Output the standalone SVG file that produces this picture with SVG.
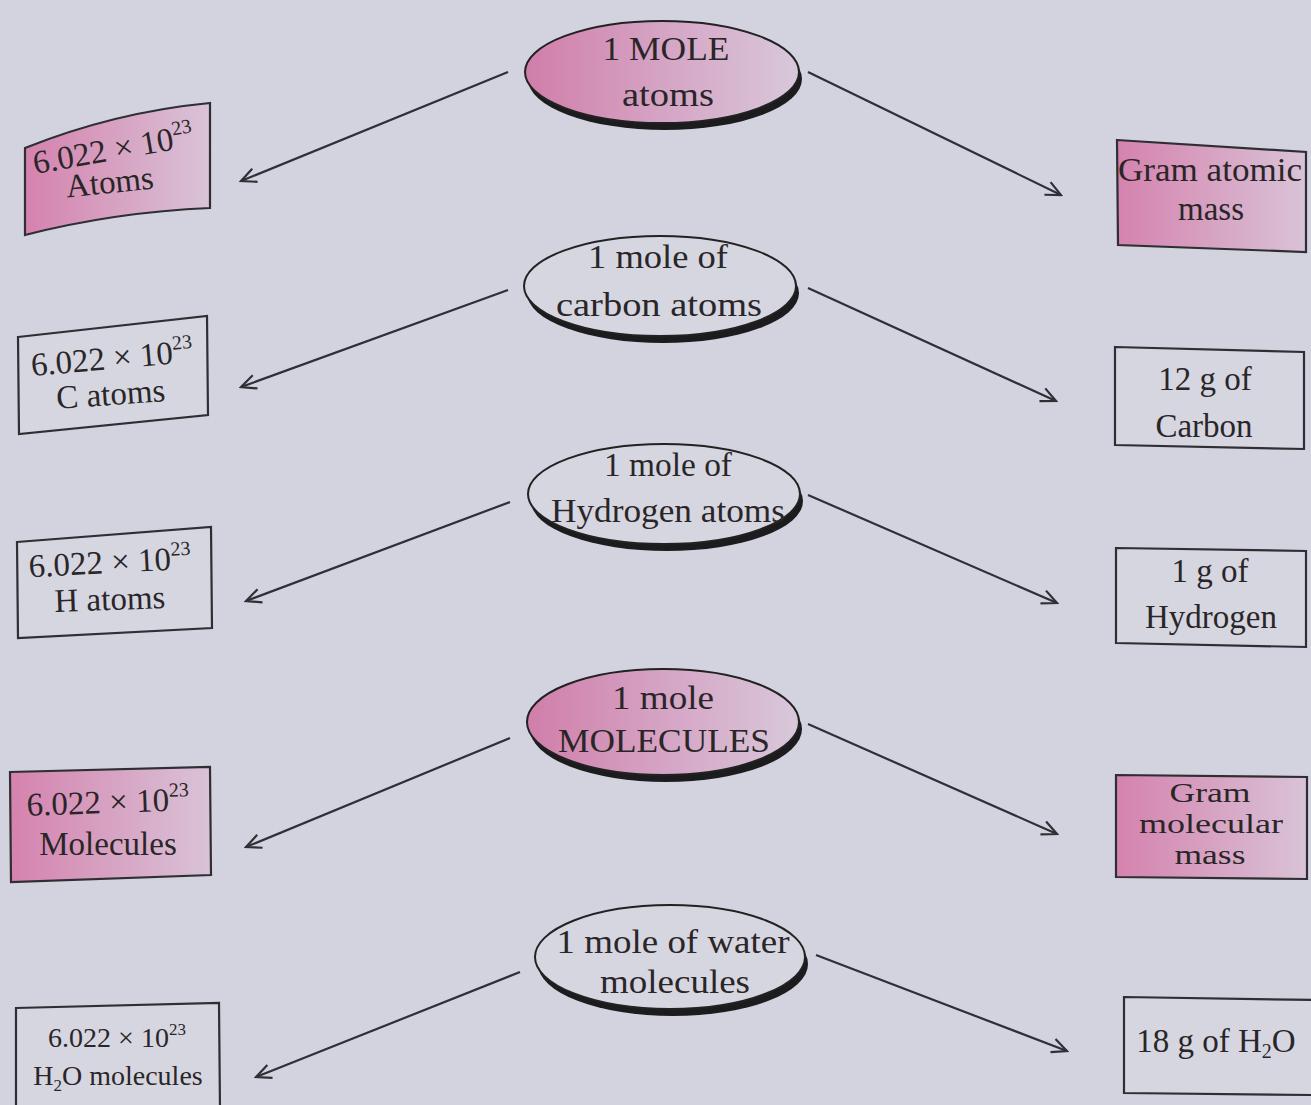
<svg xmlns="http://www.w3.org/2000/svg" width="1311" height="1105" viewBox="0 0 1311 1105">
<defs>
<style>
.t{font-family:"Liberation Serif","Times New Roman",serif;fill:#2a2628;text-anchor:middle}
.e{font-size:34px}
.b{font-size:33px}
.s{font-size:28px}
.m{font-size:27px}
.box{stroke:#2e2e33;stroke-width:2.2;stroke-linejoin:miter}
.plain{fill:#d6d6e1}
.ring{stroke:#222;stroke-width:2}
.shadow{fill:#1c1c1f}
.conn{stroke:#2f2f35;stroke-width:2.2;fill:none;marker-end:url(#arr)}
</style>
<linearGradient id="pinkL" x1="0" y1="0" x2="1" y2="0">
<stop offset="0" stop-color="#d582ae"/>
<stop offset="1" stop-color="#d9c3d7"/>
</linearGradient>
<linearGradient id="pinkE" x1="0" y1="0" x2="1" y2="0">
<stop offset="0" stop-color="#d07ea9"/>
<stop offset="0.6" stop-color="#d6abc9"/>
<stop offset="1" stop-color="#d8c8da"/>
</linearGradient>
<marker id="arr" viewBox="0 0 18 18" refX="16" refY="9" markerWidth="18" markerHeight="18" markerUnits="userSpaceOnUse" orient="auto">
<path d="M1,2 L16,9 L1,16" fill="none" stroke="#2f2f35" stroke-width="2.2"/>
</marker>
</defs>
<rect width="1311" height="1105" fill="#d3d3df"/>

<g id="connectors">
<line class="conn" x1="508" y1="72" x2="241" y2="181"/>
<line class="conn" x1="808" y1="72" x2="1061" y2="195"/>
<line class="conn" x1="508" y1="290" x2="241" y2="387"/>
<line class="conn" x1="808" y1="288" x2="1056" y2="401"/>
<line class="conn" x1="510" y1="502" x2="246" y2="601"/>
<line class="conn" x1="808" y1="495" x2="1057" y2="603"/>
<line class="conn" x1="510" y1="738" x2="246" y2="847"/>
<line class="conn" x1="808" y1="724" x2="1057" y2="834"/>
<line class="conn" x1="520" y1="972" x2="256" y2="1077"/>
<line class="conn" x1="816" y1="955" x2="1067" y2="1051"/>
</g>

<g id="e1">
<ellipse class="shadow" cx="665" cy="79" rx="137" ry="51"/>
<ellipse class="ring" cx="662" cy="72" rx="137" ry="51" fill="url(#pinkE)"/>
<text class="t e" x="666" y="60" textLength="127" lengthAdjust="spacingAndGlyphs">1 MOLE</text>
<text class="t e" x="668" y="106" textLength="92" lengthAdjust="spacingAndGlyphs">atoms</text>
</g>
<g id="e2">
<ellipse class="shadow" cx="663" cy="293" rx="136" ry="50"/>
<ellipse class="ring plain" cx="660" cy="286" rx="136" ry="50"/>
<text class="t e" x="658" y="268" textLength="140" lengthAdjust="spacingAndGlyphs">1 mole of</text>
<text class="t e" x="659" y="316" textLength="206" lengthAdjust="spacingAndGlyphs">carbon atoms</text>
</g>
<g id="e3">
<ellipse class="shadow" cx="667" cy="501" rx="136" ry="50"/>
<ellipse class="ring plain" cx="664" cy="494" rx="136" ry="50"/>
<text class="t e" x="668" y="476" textLength="128" lengthAdjust="spacingAndGlyphs">1 mole of</text>
<text class="t e" x="668" y="522" textLength="234" lengthAdjust="spacingAndGlyphs">Hydrogen atoms</text>
</g>
<g id="e4">
<ellipse class="shadow" cx="666" cy="729" rx="136" ry="53"/>
<ellipse class="ring" cx="663" cy="722" rx="136" ry="53" fill="url(#pinkE)"/>
<text class="t e" x="663" y="709" textLength="102" lengthAdjust="spacingAndGlyphs">1 mole</text>
<text class="t e" x="664" y="752" textLength="212" lengthAdjust="spacingAndGlyphs">MOLECULES</text>
</g>
<g id="e5">
<ellipse class="shadow" cx="673" cy="964" rx="135" ry="52"/>
<ellipse class="ring plain" cx="670" cy="957" rx="135" ry="52"/>
<text class="t e" x="673" y="953" textLength="233" lengthAdjust="spacingAndGlyphs">1 mole of water</text>
<text class="t e" x="675" y="993" textLength="150" lengthAdjust="spacingAndGlyphs">molecules</text>
</g>

<g id="l1">
<path class="box" d="M25,148 Q115,112 210,103 L210,208 Q115,212 25,235 Z" fill="url(#pinkL)"/>
<text class="t b" transform="rotate(-10 114 155)" x="114" y="160">6.022 × 10<tspan font-size="20" dy="-14">23</tspan></text>
<text class="t b" transform="rotate(-6 110 185)" x="110" y="193">Atoms</text>
</g>
<g id="l2">
<path class="box plain" d="M18,337 L207,316 L208,415 L19,434 Z"/>
<text class="t b" transform="rotate(-5 112 360)" x="112" y="369">6.022 × 10<tspan font-size="20" dy="-14">23</tspan></text>
<text class="t b" transform="rotate(-4 111 398)" x="111" y="405">C atoms</text>
</g>
<g id="l3">
<path class="box plain" d="M17,542 L211,527 L212,628 L18,638 Z"/>
<text class="t b" transform="rotate(-3 110 566)" x="110" y="573">6.022 × 10<tspan font-size="20" dy="-14">23</tspan></text>
<text class="t b" transform="rotate(-2 110 604)" x="110" y="610">H atoms</text>
</g>
<g id="l4">
<path class="box" d="M10,772 L210,767 L211,875 L11,882 Z" fill="url(#pinkL)"/>
<text class="t b" transform="rotate(-2 108 806)" x="108" y="813">6.022 × 10<tspan font-size="20" dy="-14">23</tspan></text>
<text class="t b" x="108" y="855">Molecules</text>
</g>
<g id="l5">
<path class="box plain" d="M16,1008 L219,1003 L220,1110 L16,1110 Z"/>
<text class="t s" x="117" y="1047">6.022 × 10<tspan font-size="17" dy="-12">23</tspan></text>
<text class="t s" x="118" y="1085">H<tspan font-size="17" dy="6">2</tspan><tspan dy="-6">O molecules</tspan></text>
</g>

<g id="r1">
<path class="box" d="M1117,140 L1306,152 L1306,252 L1118,245 Z" fill="url(#pinkL)"/>
<text class="t b" x="1210" y="181" textLength="184" lengthAdjust="spacingAndGlyphs">Gram atomic</text>
<text class="t b" x="1211" y="220">mass</text>
</g>
<g id="r2">
<path class="box plain" d="M1115,347 L1304,352 L1304,449 L1115,445 Z"/>
<text class="t b" x="1205" y="390">12 g of</text>
<text class="t b" x="1204" y="437">Carbon</text>
</g>
<g id="r3">
<path class="box plain" d="M1116,548 L1306,551 L1306,647 L1116,643 Z"/>
<text class="t b" x="1210" y="582">1 g of</text>
<text class="t b" x="1211" y="628">Hydrogen</text>
</g>
<g id="r4">
<path class="box" d="M1116,775 L1307,777 L1307,879 L1116,877 Z" fill="url(#pinkL)"/>
<text class="t m" x="1210" y="802" textLength="81" lengthAdjust="spacingAndGlyphs">Gram</text>
<text class="t m" x="1211" y="833" textLength="144" lengthAdjust="spacingAndGlyphs">molecular</text>
<text class="t m" x="1210" y="864" textLength="71" lengthAdjust="spacingAndGlyphs">mass</text>
</g>
<g id="r5">
<path class="box plain" d="M1124,997 L1313,1000 L1313,1095 L1124,1093 Z"/>
<text class="t b" x="1216" y="1052">18 g of H<tspan font-size="20" dy="6">2</tspan><tspan dy="-6">O</tspan></text>
</g>
</svg>
